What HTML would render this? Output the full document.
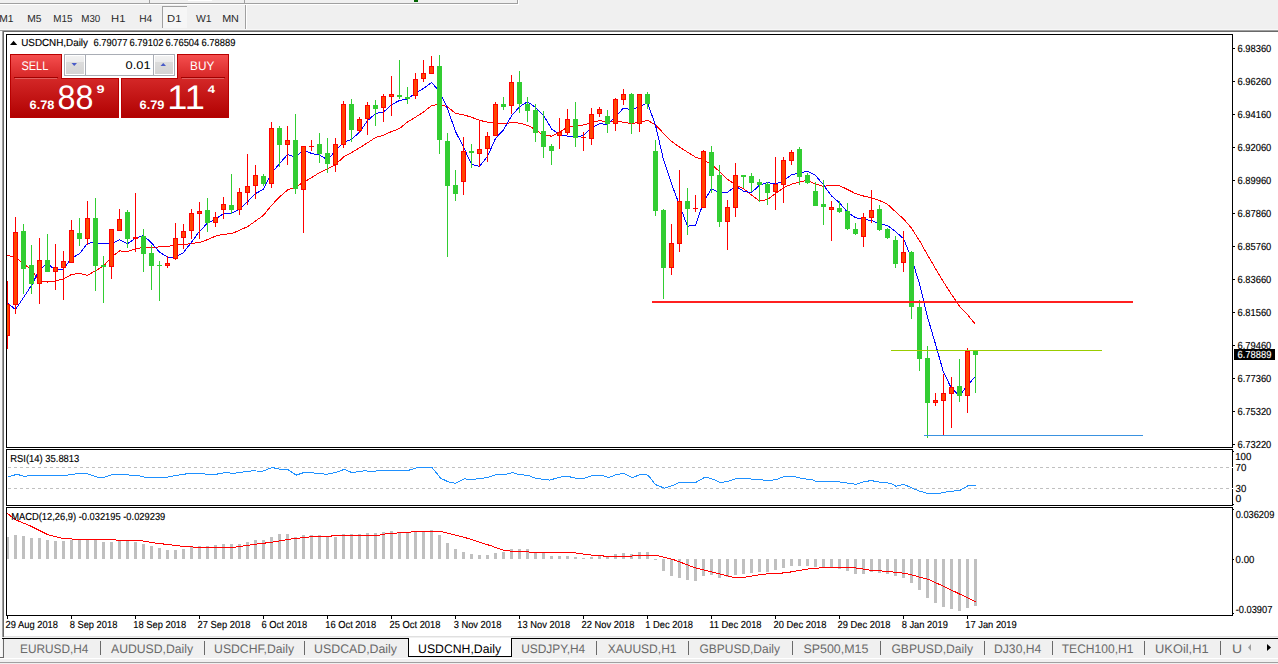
<!DOCTYPE html><html><head><meta charset="utf-8"><style>
html,body{margin:0;padding:0;width:1278px;height:664px;overflow:hidden;background:#F0F0F0;}
svg{position:absolute;left:0;top:0;}
text{font-family:"Liberation Sans",sans-serif;text-rendering:geometricPrecision;}
</style></head><body>
<svg width="1278" height="664" viewBox="0 0 1278 664">
<rect x="0" y="3" width="518" height="1" fill="#A0A0A0" shape-rendering="crispEdges"/>
<rect x="0" y="4" width="519" height="1" fill="#FFFFFF" shape-rendering="crispEdges"/>
<rect x="517" y="0" width="1" height="4" fill="#A0A0A0" shape-rendering="crispEdges"/>
<rect x="518" y="0" width="1" height="5" fill="#FFFFFF" shape-rendering="crispEdges"/>
<rect x="149" y="0" width="1" height="3" fill="#A0A0A0" shape-rendering="crispEdges"/>
<rect x="244" y="0" width="1" height="3" fill="#A0A0A0" shape-rendering="crispEdges"/>
<rect x="188" y="0" width="24" height="1" fill="#FFFFFF" shape-rendering="crispEdges"/>
<rect x="414" y="0" width="4" height="2" fill="#006400" shape-rendering="crispEdges"/>
<rect x="162" y="6" width="25" height="22" fill="#F6F6F6" shape-rendering="crispEdges"/>
<rect x="162" y="6" width="25" height="1" fill="#A0A0A0" shape-rendering="crispEdges"/>
<rect x="162" y="6" width="1" height="22" fill="#A0A0A0" shape-rendering="crispEdges"/>
<rect x="245" y="5" width="1" height="25" fill="#A0A0A0" shape-rendering="crispEdges"/>
<rect x="246" y="5" width="1" height="25" fill="#FFFFFF" shape-rendering="crispEdges"/>
<rect x="0" y="29" width="1278" height="1" fill="#F8F8F8" shape-rendering="crispEdges"/>
<rect x="0" y="30" width="1278" height="1" fill="#A0A0A0" shape-rendering="crispEdges"/>
<rect x="3" y="31" width="1275" height="1" fill="#696969" shape-rendering="crispEdges"/>
<rect x="0" y="31" width="2" height="606" fill="#F8F8F8" shape-rendering="crispEdges"/>
<rect x="2" y="30" width="1" height="607" fill="#A0A0A0" shape-rendering="crispEdges"/>
<rect x="3" y="31" width="1" height="606" fill="#696969" shape-rendering="crispEdges"/>
<rect x="4" y="32" width="1274" height="604" fill="#FFFFFF" shape-rendering="crispEdges"/>
<rect x="6" y="34" width="1227" height="1" fill="#000" shape-rendering="crispEdges"/>
<rect x="6" y="447" width="1227" height="1" fill="#000" shape-rendering="crispEdges"/>
<rect x="6" y="34" width="1" height="414" fill="#000" shape-rendering="crispEdges"/>
<rect x="1232" y="34" width="1" height="414" fill="#000" shape-rendering="crispEdges"/>
<rect x="6" y="449" width="1227" height="1" fill="#000" shape-rendering="crispEdges"/>
<rect x="6" y="505" width="1227" height="1" fill="#000" shape-rendering="crispEdges"/>
<rect x="6" y="449" width="1" height="57" fill="#000" shape-rendering="crispEdges"/>
<rect x="1232" y="449" width="1" height="57" fill="#000" shape-rendering="crispEdges"/>
<rect x="6" y="507" width="1227" height="1" fill="#000" shape-rendering="crispEdges"/>
<rect x="6" y="615" width="1227" height="1" fill="#000" shape-rendering="crispEdges"/>
<rect x="6" y="507" width="1" height="109" fill="#000" shape-rendering="crispEdges"/>
<rect x="1232" y="507" width="1" height="109" fill="#000" shape-rendering="crispEdges"/>
<rect x="1233" y="48" width="2" height="1" fill="#000" shape-rendering="crispEdges"/>
<rect x="1233" y="81" width="2" height="1" fill="#000" shape-rendering="crispEdges"/>
<rect x="1233" y="114" width="2" height="1" fill="#000" shape-rendering="crispEdges"/>
<rect x="1233" y="147" width="2" height="1" fill="#000" shape-rendering="crispEdges"/>
<rect x="1233" y="180" width="2" height="1" fill="#000" shape-rendering="crispEdges"/>
<rect x="1233" y="213" width="2" height="1" fill="#000" shape-rendering="crispEdges"/>
<rect x="1233" y="246" width="2" height="1" fill="#000" shape-rendering="crispEdges"/>
<rect x="1233" y="279" width="2" height="1" fill="#000" shape-rendering="crispEdges"/>
<rect x="1233" y="312" width="2" height="1" fill="#000" shape-rendering="crispEdges"/>
<rect x="1233" y="345" width="2" height="1" fill="#000" shape-rendering="crispEdges"/>
<rect x="1233" y="378" width="2" height="1" fill="#000" shape-rendering="crispEdges"/>
<rect x="1233" y="411" width="2" height="1" fill="#000" shape-rendering="crispEdges"/>
<rect x="1233" y="444" width="2" height="1" fill="#000" shape-rendering="crispEdges"/>
<rect x="1233" y="451" width="1" height="1" fill="#000" shape-rendering="crispEdges"/>
<rect x="1233" y="504" width="1" height="1" fill="#000" shape-rendering="crispEdges"/>
<rect x="1232" y="467" width="1" height="1" fill="#FFFFFF" shape-rendering="crispEdges"/>
<rect x="1232" y="488" width="1" height="1" fill="#FFFFFF" shape-rendering="crispEdges"/>
<rect x="1233" y="509" width="1" height="1" fill="#000" shape-rendering="crispEdges"/>
<rect x="1233" y="559" width="1" height="1" fill="#000" shape-rendering="crispEdges"/>
<rect x="1233" y="613" width="1" height="1" fill="#000" shape-rendering="crispEdges"/>
<rect x="7" y="616" width="1" height="3" fill="#000" shape-rendering="crispEdges"/>
<rect x="71" y="616" width="1" height="3" fill="#000" shape-rendering="crispEdges"/>
<rect x="135" y="616" width="1" height="3" fill="#000" shape-rendering="crispEdges"/>
<rect x="199" y="616" width="1" height="3" fill="#000" shape-rendering="crispEdges"/>
<rect x="263" y="616" width="1" height="3" fill="#000" shape-rendering="crispEdges"/>
<rect x="327" y="616" width="1" height="3" fill="#000" shape-rendering="crispEdges"/>
<rect x="391" y="616" width="1" height="3" fill="#000" shape-rendering="crispEdges"/>
<rect x="455" y="616" width="1" height="3" fill="#000" shape-rendering="crispEdges"/>
<rect x="519" y="616" width="1" height="3" fill="#000" shape-rendering="crispEdges"/>
<rect x="583" y="616" width="1" height="3" fill="#000" shape-rendering="crispEdges"/>
<rect x="647" y="616" width="1" height="3" fill="#000" shape-rendering="crispEdges"/>
<rect x="711" y="616" width="1" height="3" fill="#000" shape-rendering="crispEdges"/>
<rect x="775" y="616" width="1" height="3" fill="#000" shape-rendering="crispEdges"/>
<rect x="839" y="616" width="1" height="3" fill="#000" shape-rendering="crispEdges"/>
<rect x="903" y="616" width="1" height="3" fill="#000" shape-rendering="crispEdges"/>
<rect x="967" y="616" width="1" height="3" fill="#000" shape-rendering="crispEdges"/>
<path d="M7 467.5 H1232" stroke="#C0C0C0" stroke-width="1" stroke-dasharray="3 3" stroke-dashoffset="-1" shape-rendering="crispEdges"/>
<path d="M7 488.5 H1232" stroke="#C0C0C0" stroke-width="1" stroke-dasharray="3 3" stroke-dashoffset="-1" shape-rendering="crispEdges"/>
<defs><clipPath id="cm"><rect x="7" y="35" width="1225" height="412"/></clipPath>
<clipPath id="cr"><rect x="7" y="450" width="1225" height="55"/></clipPath>
<clipPath id="cd"><rect x="7" y="508" width="1225" height="107"/></clipPath></defs>
<g clip-path="url(#cm)">
<polyline points="7.5,255.4 15.5,257.6 23.5,263.5 31.5,269.8 39.5,281.1 47.5,282.0 55.5,281.1 63.5,278.8 71.5,274.5 79.5,273.4 87.5,275.4 95.5,270.7 103.5,266.2 111.5,256.9 119.5,250.9 127.5,251.4 135.5,249.1 143.5,247.0 151.5,247.4 159.5,246.9 167.5,246.6 175.5,244.9 183.5,245.0 191.5,243.2 199.5,242.7 207.5,239.6 215.5,236.1 223.5,234.3 231.5,233.7 239.5,230.3 247.5,226.7 255.5,221.1 263.5,215.2 271.5,205.4 279.5,197.0 287.5,190.0 295.5,187.0 303.5,182.3 311.5,177.6 319.5,172.7 327.5,168.9 335.5,164.6 343.5,157.0 351.5,152.6 359.5,147.8 367.5,142.8 375.5,137.5 383.5,135.2 391.5,131.6 399.5,128.5 407.5,122.0 415.5,117.2 423.5,112.0 431.5,105.7 439.5,104.0 447.5,106.9 455.5,113.3 463.5,114.8 471.5,117.2 479.5,120.3 487.5,122.2 495.5,122.8 503.5,123.7 511.5,122.7 519.5,123.1 527.5,125.3 535.5,129.6 543.5,135.3 551.5,136.1 559.5,132.3 567.5,127.0 575.5,126.1 583.5,125.0 591.5,122.5 599.5,120.6 607.5,122.0 615.5,121.4 623.5,122.2 631.5,123.6 639.5,122.4 647.5,120.3 655.5,124.9 663.5,133.3 671.5,141.2 679.5,147.1 687.5,152.1 695.5,157.1 703.5,159.7 711.5,164.5 719.5,171.5 727.5,179.2 735.5,184.9 743.5,188.7 751.5,195.1 759.5,200.9 767.5,199.6 775.5,193.6 783.5,187.7 791.5,184.2 799.5,181.9 807.5,180.2 815.5,184.1 823.5,186.3 831.5,185.3 839.5,185.6 847.5,189.5 855.5,193.6 863.5,196.0 871.5,197.8 879.5,200.5 887.5,204.3 895.5,211.7 903.5,218.9 911.5,228.2 919.5,240.7 927.5,254.8 935.5,268.6 943.5,281.9 951.5,294.4 959.5,306.3 967.5,314.7 975.5,324.5" fill="none" stroke="#FF0000" stroke-width="1" shape-rendering="crispEdges"/>
<polyline points="7.5,303.0 15.5,309.5 23.5,297.5 31.5,285.4 39.5,269.7 47.5,263.3 55.5,270.4 63.5,268.9 71.5,258.2 79.5,253.8 87.5,243.1 95.5,242.8 103.5,243.8 111.5,243.6 119.5,239.7 127.5,243.8 135.5,238.1 143.5,235.5 151.5,242.9 159.5,252.1 167.5,257.0 175.5,257.2 183.5,252.6 191.5,242.1 199.5,231.3 207.5,223.2 215.5,219.1 223.5,213.7 231.5,213.1 239.5,209.3 247.5,201.9 255.5,193.5 263.5,189.4 271.5,173.0 279.5,163.6 287.5,154.5 295.5,157.3 303.5,149.9 311.5,153.4 319.5,155.1 327.5,159.8 335.5,150.8 343.5,142.3 351.5,139.3 359.5,132.3 367.5,120.6 375.5,113.6 383.5,112.0 391.5,104.9 399.5,100.4 407.5,99.1 415.5,93.0 423.5,88.4 431.5,82.6 439.5,91.2 447.5,108.6 455.5,131.5 463.5,147.1 471.5,164.4 479.5,166.3 487.5,156.4 495.5,138.5 503.5,129.8 511.5,115.8 519.5,106.8 527.5,101.7 535.5,107.4 543.5,115.2 551.5,128.9 559.5,134.4 567.5,136.1 575.5,137.3 583.5,135.4 591.5,128.1 599.5,123.6 607.5,124.5 615.5,116.7 623.5,108.1 631.5,109.8 639.5,106.8 647.5,102.8 655.5,125.2 663.5,159.8 671.5,183.8 679.5,205.2 687.5,226.1 695.5,225.5 703.5,202.2 711.5,188.7 719.5,192.8 727.5,192.5 735.5,186.0 743.5,191.1 751.5,192.6 759.5,185.2 767.5,182.4 775.5,184.2 783.5,180.9 791.5,174.7 799.5,173.1 807.5,171.1 815.5,175.4 823.5,184.9 831.5,195.9 839.5,202.9 847.5,212.1 855.5,217.7 863.5,219.7 871.5,220.2 879.5,223.9 887.5,225.6 895.5,231.6 903.5,238.7 911.5,258.1 919.5,283.9 927.5,316.9 935.5,344.2 943.5,372.3 951.5,388.4 959.5,395.7 967.5,385.4 975.5,376.3" fill="none" stroke="#0000FF" stroke-width="1" shape-rendering="crispEdges"/>
<rect x="7" y="281" width="1" height="68" fill="#FF0000" shape-rendering="crispEdges"/>
<rect x="5" y="304" width="5" height="32" fill="#FF0000" shape-rendering="crispEdges"/>
<rect x="6" y="305" width="3" height="30" fill="#FF4500" shape-rendering="crispEdges"/>
<rect x="15" y="217" width="1" height="97" fill="#FF0000" shape-rendering="crispEdges"/>
<rect x="13" y="232" width="5" height="73" fill="#FF0000" shape-rendering="crispEdges"/>
<rect x="14" y="233" width="3" height="71" fill="#FF4500" shape-rendering="crispEdges"/>
<rect x="23" y="224" width="1" height="70" fill="#32CD32" shape-rendering="crispEdges"/>
<rect x="21" y="231" width="5" height="38" fill="#32CD32" shape-rendering="crispEdges"/>
<rect x="31" y="245" width="1" height="49" fill="#32CD32" shape-rendering="crispEdges"/>
<rect x="29" y="265" width="5" height="19" fill="#32CD32" shape-rendering="crispEdges"/>
<rect x="39" y="238" width="1" height="66" fill="#FF0000" shape-rendering="crispEdges"/>
<rect x="37" y="260" width="5" height="24" fill="#FF0000" shape-rendering="crispEdges"/>
<rect x="38" y="261" width="3" height="22" fill="#FF4500" shape-rendering="crispEdges"/>
<rect x="47" y="234" width="1" height="38" fill="#32CD32" shape-rendering="crispEdges"/>
<rect x="45" y="260" width="5" height="12" fill="#32CD32" shape-rendering="crispEdges"/>
<rect x="55" y="244" width="1" height="46" fill="#FF0000" shape-rendering="crispEdges"/>
<rect x="53" y="267" width="5" height="5" fill="#FF0000" shape-rendering="crispEdges"/>
<rect x="54" y="268" width="3" height="3" fill="#FF4500" shape-rendering="crispEdges"/>
<rect x="63" y="251" width="1" height="49" fill="#FF0000" shape-rendering="crispEdges"/>
<rect x="61" y="261" width="5" height="7" fill="#FF0000" shape-rendering="crispEdges"/>
<rect x="62" y="262" width="3" height="5" fill="#FF4500" shape-rendering="crispEdges"/>
<rect x="71" y="220" width="1" height="43" fill="#FF0000" shape-rendering="crispEdges"/>
<rect x="69" y="230" width="5" height="33" fill="#FF0000" shape-rendering="crispEdges"/>
<rect x="70" y="231" width="3" height="31" fill="#FF4500" shape-rendering="crispEdges"/>
<rect x="79" y="218" width="1" height="28" fill="#32CD32" shape-rendering="crispEdges"/>
<rect x="77" y="233" width="5" height="6" fill="#32CD32" shape-rendering="crispEdges"/>
<rect x="87" y="201" width="1" height="44" fill="#FF0000" shape-rendering="crispEdges"/>
<rect x="85" y="218" width="5" height="21" fill="#FF0000" shape-rendering="crispEdges"/>
<rect x="86" y="219" width="3" height="19" fill="#FF4500" shape-rendering="crispEdges"/>
<rect x="95" y="198" width="1" height="93" fill="#32CD32" shape-rendering="crispEdges"/>
<rect x="93" y="218" width="5" height="48" fill="#32CD32" shape-rendering="crispEdges"/>
<rect x="103" y="256" width="1" height="47" fill="#32CD32" shape-rendering="crispEdges"/>
<rect x="101" y="265" width="5" height="2" fill="#32CD32" shape-rendering="crispEdges"/>
<rect x="111" y="229" width="1" height="50" fill="#FF0000" shape-rendering="crispEdges"/>
<rect x="109" y="229" width="5" height="38" fill="#FF0000" shape-rendering="crispEdges"/>
<rect x="110" y="230" width="3" height="36" fill="#FF4500" shape-rendering="crispEdges"/>
<rect x="119" y="209" width="1" height="22" fill="#FF0000" shape-rendering="crispEdges"/>
<rect x="117" y="219" width="5" height="12" fill="#FF0000" shape-rendering="crispEdges"/>
<rect x="118" y="220" width="3" height="10" fill="#FF4500" shape-rendering="crispEdges"/>
<rect x="127" y="210" width="1" height="38" fill="#32CD32" shape-rendering="crispEdges"/>
<rect x="125" y="212" width="5" height="27" fill="#32CD32" shape-rendering="crispEdges"/>
<rect x="135" y="193" width="1" height="59" fill="#FF0000" shape-rendering="crispEdges"/>
<rect x="133" y="237" width="5" height="2" fill="#FF0000" shape-rendering="crispEdges"/>
<rect x="143" y="229" width="1" height="43" fill="#32CD32" shape-rendering="crispEdges"/>
<rect x="141" y="236" width="5" height="18" fill="#32CD32" shape-rendering="crispEdges"/>
<rect x="151" y="245" width="1" height="45" fill="#32CD32" shape-rendering="crispEdges"/>
<rect x="149" y="253" width="5" height="13" fill="#32CD32" shape-rendering="crispEdges"/>
<rect x="159" y="261" width="1" height="40" fill="#32CD32" shape-rendering="crispEdges"/>
<rect x="157" y="265" width="5" height="1" fill="#32CD32" shape-rendering="crispEdges"/>
<rect x="167" y="256" width="1" height="12" fill="#FF0000" shape-rendering="crispEdges"/>
<rect x="165" y="263" width="5" height="3" fill="#FF0000" shape-rendering="crispEdges"/>
<rect x="166" y="264" width="3" height="1" fill="#FF4500" shape-rendering="crispEdges"/>
<rect x="175" y="223" width="1" height="37" fill="#FF0000" shape-rendering="crispEdges"/>
<rect x="173" y="238" width="5" height="21" fill="#FF0000" shape-rendering="crispEdges"/>
<rect x="174" y="239" width="3" height="19" fill="#FF4500" shape-rendering="crispEdges"/>
<rect x="183" y="224" width="1" height="25" fill="#FF0000" shape-rendering="crispEdges"/>
<rect x="181" y="231" width="5" height="7" fill="#FF0000" shape-rendering="crispEdges"/>
<rect x="182" y="232" width="3" height="5" fill="#FF4500" shape-rendering="crispEdges"/>
<rect x="191" y="209" width="1" height="30" fill="#FF0000" shape-rendering="crispEdges"/>
<rect x="189" y="213" width="5" height="18" fill="#FF0000" shape-rendering="crispEdges"/>
<rect x="190" y="214" width="3" height="16" fill="#FF4500" shape-rendering="crispEdges"/>
<rect x="199" y="202" width="1" height="37" fill="#FF0000" shape-rendering="crispEdges"/>
<rect x="197" y="211" width="5" height="3" fill="#FF0000" shape-rendering="crispEdges"/>
<rect x="198" y="212" width="3" height="1" fill="#FF4500" shape-rendering="crispEdges"/>
<rect x="207" y="198" width="1" height="34" fill="#32CD32" shape-rendering="crispEdges"/>
<rect x="205" y="210" width="5" height="13" fill="#32CD32" shape-rendering="crispEdges"/>
<rect x="215" y="212" width="1" height="15" fill="#FF0000" shape-rendering="crispEdges"/>
<rect x="213" y="217" width="5" height="6" fill="#FF0000" shape-rendering="crispEdges"/>
<rect x="214" y="218" width="3" height="4" fill="#FF4500" shape-rendering="crispEdges"/>
<rect x="223" y="197" width="1" height="22" fill="#FF0000" shape-rendering="crispEdges"/>
<rect x="221" y="204" width="5" height="6" fill="#FF0000" shape-rendering="crispEdges"/>
<rect x="222" y="205" width="3" height="4" fill="#FF4500" shape-rendering="crispEdges"/>
<rect x="231" y="174" width="1" height="40" fill="#32CD32" shape-rendering="crispEdges"/>
<rect x="229" y="205" width="5" height="5" fill="#32CD32" shape-rendering="crispEdges"/>
<rect x="239" y="188" width="1" height="27" fill="#FF0000" shape-rendering="crispEdges"/>
<rect x="237" y="192" width="5" height="18" fill="#FF0000" shape-rendering="crispEdges"/>
<rect x="238" y="193" width="3" height="16" fill="#FF4500" shape-rendering="crispEdges"/>
<rect x="247" y="154" width="1" height="51" fill="#FF0000" shape-rendering="crispEdges"/>
<rect x="245" y="186" width="5" height="7" fill="#FF0000" shape-rendering="crispEdges"/>
<rect x="246" y="187" width="3" height="5" fill="#FF4500" shape-rendering="crispEdges"/>
<rect x="255" y="165" width="1" height="34" fill="#FF0000" shape-rendering="crispEdges"/>
<rect x="253" y="175" width="5" height="11" fill="#FF0000" shape-rendering="crispEdges"/>
<rect x="254" y="176" width="3" height="9" fill="#FF4500" shape-rendering="crispEdges"/>
<rect x="263" y="174" width="1" height="12" fill="#32CD32" shape-rendering="crispEdges"/>
<rect x="261" y="176" width="5" height="8" fill="#32CD32" shape-rendering="crispEdges"/>
<rect x="271" y="122" width="1" height="66" fill="#FF0000" shape-rendering="crispEdges"/>
<rect x="269" y="128" width="5" height="56" fill="#FF0000" shape-rendering="crispEdges"/>
<rect x="270" y="129" width="3" height="54" fill="#FF4500" shape-rendering="crispEdges"/>
<rect x="279" y="126" width="1" height="41" fill="#32CD32" shape-rendering="crispEdges"/>
<rect x="277" y="128" width="5" height="17" fill="#32CD32" shape-rendering="crispEdges"/>
<rect x="287" y="126" width="1" height="39" fill="#FF0000" shape-rendering="crispEdges"/>
<rect x="285" y="140" width="5" height="5" fill="#FF0000" shape-rendering="crispEdges"/>
<rect x="286" y="141" width="3" height="3" fill="#FF4500" shape-rendering="crispEdges"/>
<rect x="295" y="114" width="1" height="80" fill="#32CD32" shape-rendering="crispEdges"/>
<rect x="293" y="140" width="5" height="49" fill="#32CD32" shape-rendering="crispEdges"/>
<rect x="303" y="146" width="1" height="87" fill="#FF0000" shape-rendering="crispEdges"/>
<rect x="301" y="146" width="5" height="44" fill="#FF0000" shape-rendering="crispEdges"/>
<rect x="302" y="147" width="3" height="42" fill="#FF4500" shape-rendering="crispEdges"/>
<rect x="311" y="140" width="1" height="11" fill="#FF0000" shape-rendering="crispEdges"/>
<rect x="309" y="146" width="5" height="1" fill="#FF0000" shape-rendering="crispEdges"/>
<rect x="319" y="133" width="1" height="30" fill="#32CD32" shape-rendering="crispEdges"/>
<rect x="317" y="144" width="5" height="10" fill="#32CD32" shape-rendering="crispEdges"/>
<rect x="327" y="138" width="1" height="35" fill="#32CD32" shape-rendering="crispEdges"/>
<rect x="325" y="153" width="5" height="11" fill="#32CD32" shape-rendering="crispEdges"/>
<rect x="335" y="138" width="1" height="34" fill="#FF0000" shape-rendering="crispEdges"/>
<rect x="333" y="144" width="5" height="21" fill="#FF0000" shape-rendering="crispEdges"/>
<rect x="334" y="145" width="3" height="19" fill="#FF4500" shape-rendering="crispEdges"/>
<rect x="343" y="101" width="1" height="47" fill="#FF0000" shape-rendering="crispEdges"/>
<rect x="341" y="104" width="5" height="41" fill="#FF0000" shape-rendering="crispEdges"/>
<rect x="342" y="105" width="3" height="39" fill="#FF4500" shape-rendering="crispEdges"/>
<rect x="351" y="99" width="1" height="43" fill="#32CD32" shape-rendering="crispEdges"/>
<rect x="349" y="104" width="5" height="26" fill="#32CD32" shape-rendering="crispEdges"/>
<rect x="359" y="117" width="1" height="16" fill="#FF0000" shape-rendering="crispEdges"/>
<rect x="357" y="119" width="5" height="12" fill="#FF0000" shape-rendering="crispEdges"/>
<rect x="358" y="120" width="3" height="10" fill="#FF4500" shape-rendering="crispEdges"/>
<rect x="367" y="102" width="1" height="33" fill="#FF0000" shape-rendering="crispEdges"/>
<rect x="365" y="105" width="5" height="14" fill="#FF0000" shape-rendering="crispEdges"/>
<rect x="366" y="106" width="3" height="12" fill="#FF4500" shape-rendering="crispEdges"/>
<rect x="375" y="100" width="1" height="26" fill="#32CD32" shape-rendering="crispEdges"/>
<rect x="373" y="105" width="5" height="4" fill="#32CD32" shape-rendering="crispEdges"/>
<rect x="383" y="94" width="1" height="28" fill="#FF0000" shape-rendering="crispEdges"/>
<rect x="381" y="96" width="5" height="12" fill="#FF0000" shape-rendering="crispEdges"/>
<rect x="382" y="97" width="3" height="10" fill="#FF4500" shape-rendering="crispEdges"/>
<rect x="391" y="76" width="1" height="40" fill="#FF0000" shape-rendering="crispEdges"/>
<rect x="389" y="94" width="5" height="3" fill="#FF0000" shape-rendering="crispEdges"/>
<rect x="390" y="95" width="3" height="1" fill="#FF4500" shape-rendering="crispEdges"/>
<rect x="399" y="60" width="1" height="39" fill="#32CD32" shape-rendering="crispEdges"/>
<rect x="397" y="95" width="5" height="2" fill="#32CD32" shape-rendering="crispEdges"/>
<rect x="407" y="87" width="1" height="17" fill="#32CD32" shape-rendering="crispEdges"/>
<rect x="405" y="97" width="5" height="2" fill="#32CD32" shape-rendering="crispEdges"/>
<rect x="415" y="73" width="1" height="26" fill="#FF0000" shape-rendering="crispEdges"/>
<rect x="413" y="79" width="5" height="17" fill="#FF0000" shape-rendering="crispEdges"/>
<rect x="414" y="80" width="3" height="15" fill="#FF4500" shape-rendering="crispEdges"/>
<rect x="423" y="60" width="1" height="22" fill="#FF0000" shape-rendering="crispEdges"/>
<rect x="421" y="73" width="5" height="6" fill="#FF0000" shape-rendering="crispEdges"/>
<rect x="422" y="74" width="3" height="4" fill="#FF4500" shape-rendering="crispEdges"/>
<rect x="431" y="56" width="1" height="18" fill="#FF0000" shape-rendering="crispEdges"/>
<rect x="429" y="66" width="5" height="8" fill="#FF0000" shape-rendering="crispEdges"/>
<rect x="430" y="67" width="3" height="6" fill="#FF4500" shape-rendering="crispEdges"/>
<rect x="439" y="55" width="1" height="99" fill="#32CD32" shape-rendering="crispEdges"/>
<rect x="437" y="66" width="5" height="74" fill="#32CD32" shape-rendering="crispEdges"/>
<rect x="447" y="133" width="1" height="124" fill="#32CD32" shape-rendering="crispEdges"/>
<rect x="445" y="141" width="5" height="45" fill="#32CD32" shape-rendering="crispEdges"/>
<rect x="455" y="170" width="1" height="31" fill="#32CD32" shape-rendering="crispEdges"/>
<rect x="453" y="185" width="5" height="9" fill="#32CD32" shape-rendering="crispEdges"/>
<rect x="463" y="137" width="1" height="58" fill="#FF0000" shape-rendering="crispEdges"/>
<rect x="461" y="151" width="5" height="31" fill="#FF0000" shape-rendering="crispEdges"/>
<rect x="462" y="152" width="3" height="29" fill="#FF4500" shape-rendering="crispEdges"/>
<rect x="471" y="144" width="1" height="24" fill="#32CD32" shape-rendering="crispEdges"/>
<rect x="469" y="151" width="5" height="2" fill="#32CD32" shape-rendering="crispEdges"/>
<rect x="479" y="120" width="1" height="47" fill="#FF0000" shape-rendering="crispEdges"/>
<rect x="477" y="149" width="5" height="5" fill="#FF0000" shape-rendering="crispEdges"/>
<rect x="478" y="150" width="3" height="3" fill="#FF4500" shape-rendering="crispEdges"/>
<rect x="487" y="132" width="1" height="30" fill="#FF0000" shape-rendering="crispEdges"/>
<rect x="485" y="136" width="5" height="13" fill="#FF0000" shape-rendering="crispEdges"/>
<rect x="486" y="137" width="3" height="11" fill="#FF4500" shape-rendering="crispEdges"/>
<rect x="495" y="102" width="1" height="34" fill="#FF0000" shape-rendering="crispEdges"/>
<rect x="493" y="104" width="5" height="32" fill="#FF0000" shape-rendering="crispEdges"/>
<rect x="494" y="105" width="3" height="30" fill="#FF4500" shape-rendering="crispEdges"/>
<rect x="503" y="97" width="1" height="13" fill="#32CD32" shape-rendering="crispEdges"/>
<rect x="501" y="104" width="5" height="3" fill="#32CD32" shape-rendering="crispEdges"/>
<rect x="511" y="75" width="1" height="39" fill="#FF0000" shape-rendering="crispEdges"/>
<rect x="509" y="82" width="5" height="24" fill="#FF0000" shape-rendering="crispEdges"/>
<rect x="510" y="83" width="3" height="22" fill="#FF4500" shape-rendering="crispEdges"/>
<rect x="519" y="71" width="1" height="42" fill="#32CD32" shape-rendering="crispEdges"/>
<rect x="517" y="82" width="5" height="22" fill="#32CD32" shape-rendering="crispEdges"/>
<rect x="527" y="97" width="1" height="25" fill="#32CD32" shape-rendering="crispEdges"/>
<rect x="525" y="104" width="5" height="7" fill="#32CD32" shape-rendering="crispEdges"/>
<rect x="535" y="104" width="1" height="38" fill="#32CD32" shape-rendering="crispEdges"/>
<rect x="533" y="110" width="5" height="23" fill="#32CD32" shape-rendering="crispEdges"/>
<rect x="543" y="111" width="1" height="47" fill="#32CD32" shape-rendering="crispEdges"/>
<rect x="541" y="131" width="5" height="16" fill="#32CD32" shape-rendering="crispEdges"/>
<rect x="551" y="144" width="1" height="21" fill="#32CD32" shape-rendering="crispEdges"/>
<rect x="549" y="146" width="5" height="5" fill="#32CD32" shape-rendering="crispEdges"/>
<rect x="559" y="118" width="1" height="31" fill="#FF0000" shape-rendering="crispEdges"/>
<rect x="557" y="132" width="5" height="4" fill="#FF0000" shape-rendering="crispEdges"/>
<rect x="558" y="133" width="3" height="2" fill="#FF4500" shape-rendering="crispEdges"/>
<rect x="567" y="109" width="1" height="26" fill="#FF0000" shape-rendering="crispEdges"/>
<rect x="565" y="119" width="5" height="14" fill="#FF0000" shape-rendering="crispEdges"/>
<rect x="566" y="120" width="3" height="12" fill="#FF4500" shape-rendering="crispEdges"/>
<rect x="575" y="102" width="1" height="45" fill="#32CD32" shape-rendering="crispEdges"/>
<rect x="573" y="119" width="5" height="19" fill="#32CD32" shape-rendering="crispEdges"/>
<rect x="583" y="132" width="1" height="19" fill="#FF0000" shape-rendering="crispEdges"/>
<rect x="581" y="137" width="5" height="1" fill="#FF0000" shape-rendering="crispEdges"/>
<rect x="591" y="108" width="1" height="37" fill="#FF0000" shape-rendering="crispEdges"/>
<rect x="589" y="114" width="5" height="25" fill="#FF0000" shape-rendering="crispEdges"/>
<rect x="590" y="115" width="3" height="23" fill="#FF4500" shape-rendering="crispEdges"/>
<rect x="599" y="107" width="1" height="10" fill="#FF0000" shape-rendering="crispEdges"/>
<rect x="597" y="109" width="5" height="5" fill="#FF0000" shape-rendering="crispEdges"/>
<rect x="598" y="110" width="3" height="3" fill="#FF4500" shape-rendering="crispEdges"/>
<rect x="607" y="110" width="1" height="23" fill="#32CD32" shape-rendering="crispEdges"/>
<rect x="605" y="116" width="5" height="8" fill="#32CD32" shape-rendering="crispEdges"/>
<rect x="615" y="98" width="1" height="33" fill="#FF0000" shape-rendering="crispEdges"/>
<rect x="613" y="99" width="5" height="25" fill="#FF0000" shape-rendering="crispEdges"/>
<rect x="614" y="100" width="3" height="23" fill="#FF4500" shape-rendering="crispEdges"/>
<rect x="623" y="89" width="1" height="16" fill="#FF0000" shape-rendering="crispEdges"/>
<rect x="621" y="94" width="5" height="6" fill="#FF0000" shape-rendering="crispEdges"/>
<rect x="622" y="95" width="3" height="4" fill="#FF4500" shape-rendering="crispEdges"/>
<rect x="631" y="93" width="1" height="41" fill="#32CD32" shape-rendering="crispEdges"/>
<rect x="629" y="94" width="5" height="29" fill="#32CD32" shape-rendering="crispEdges"/>
<rect x="639" y="94" width="1" height="38" fill="#FF0000" shape-rendering="crispEdges"/>
<rect x="637" y="94" width="5" height="30" fill="#FF0000" shape-rendering="crispEdges"/>
<rect x="638" y="95" width="3" height="28" fill="#FF4500" shape-rendering="crispEdges"/>
<rect x="647" y="92" width="1" height="17" fill="#32CD32" shape-rendering="crispEdges"/>
<rect x="645" y="94" width="5" height="10" fill="#32CD32" shape-rendering="crispEdges"/>
<rect x="655" y="140" width="1" height="76" fill="#32CD32" shape-rendering="crispEdges"/>
<rect x="653" y="151" width="5" height="60" fill="#32CD32" shape-rendering="crispEdges"/>
<rect x="663" y="209" width="1" height="90" fill="#32CD32" shape-rendering="crispEdges"/>
<rect x="661" y="210" width="5" height="58" fill="#32CD32" shape-rendering="crispEdges"/>
<rect x="671" y="224" width="1" height="51" fill="#FF0000" shape-rendering="crispEdges"/>
<rect x="669" y="243" width="5" height="25" fill="#FF0000" shape-rendering="crispEdges"/>
<rect x="670" y="244" width="3" height="23" fill="#FF4500" shape-rendering="crispEdges"/>
<rect x="679" y="170" width="1" height="82" fill="#FF0000" shape-rendering="crispEdges"/>
<rect x="677" y="201" width="5" height="43" fill="#FF0000" shape-rendering="crispEdges"/>
<rect x="678" y="202" width="3" height="41" fill="#FF4500" shape-rendering="crispEdges"/>
<rect x="687" y="188" width="1" height="47" fill="#32CD32" shape-rendering="crispEdges"/>
<rect x="685" y="201" width="5" height="8" fill="#32CD32" shape-rendering="crispEdges"/>
<rect x="695" y="195" width="1" height="17" fill="#FF0000" shape-rendering="crispEdges"/>
<rect x="693" y="208" width="5" height="1" fill="#FF0000" shape-rendering="crispEdges"/>
<rect x="703" y="150" width="1" height="58" fill="#FF0000" shape-rendering="crispEdges"/>
<rect x="701" y="151" width="5" height="57" fill="#FF0000" shape-rendering="crispEdges"/>
<rect x="702" y="152" width="3" height="55" fill="#FF4500" shape-rendering="crispEdges"/>
<rect x="711" y="146" width="1" height="47" fill="#32CD32" shape-rendering="crispEdges"/>
<rect x="709" y="152" width="5" height="24" fill="#32CD32" shape-rendering="crispEdges"/>
<rect x="719" y="165" width="1" height="62" fill="#32CD32" shape-rendering="crispEdges"/>
<rect x="717" y="175" width="5" height="47" fill="#32CD32" shape-rendering="crispEdges"/>
<rect x="727" y="200" width="1" height="50" fill="#FF0000" shape-rendering="crispEdges"/>
<rect x="725" y="207" width="5" height="15" fill="#FF0000" shape-rendering="crispEdges"/>
<rect x="726" y="208" width="3" height="13" fill="#FF4500" shape-rendering="crispEdges"/>
<rect x="735" y="163" width="1" height="54" fill="#FF0000" shape-rendering="crispEdges"/>
<rect x="733" y="175" width="5" height="33" fill="#FF0000" shape-rendering="crispEdges"/>
<rect x="734" y="176" width="3" height="31" fill="#FF4500" shape-rendering="crispEdges"/>
<rect x="743" y="175" width="1" height="13" fill="#32CD32" shape-rendering="crispEdges"/>
<rect x="741" y="175" width="5" height="2" fill="#32CD32" shape-rendering="crispEdges"/>
<rect x="751" y="173" width="1" height="19" fill="#32CD32" shape-rendering="crispEdges"/>
<rect x="749" y="176" width="5" height="7" fill="#32CD32" shape-rendering="crispEdges"/>
<rect x="759" y="179" width="1" height="23" fill="#32CD32" shape-rendering="crispEdges"/>
<rect x="757" y="182" width="5" height="3" fill="#32CD32" shape-rendering="crispEdges"/>
<rect x="767" y="182" width="1" height="23" fill="#32CD32" shape-rendering="crispEdges"/>
<rect x="765" y="184" width="5" height="9" fill="#32CD32" shape-rendering="crispEdges"/>
<rect x="775" y="157" width="1" height="53" fill="#FF0000" shape-rendering="crispEdges"/>
<rect x="773" y="184" width="5" height="8" fill="#FF0000" shape-rendering="crispEdges"/>
<rect x="774" y="185" width="3" height="6" fill="#FF4500" shape-rendering="crispEdges"/>
<rect x="783" y="157" width="1" height="46" fill="#FF0000" shape-rendering="crispEdges"/>
<rect x="781" y="160" width="5" height="25" fill="#FF0000" shape-rendering="crispEdges"/>
<rect x="782" y="161" width="3" height="23" fill="#FF4500" shape-rendering="crispEdges"/>
<rect x="791" y="150" width="1" height="15" fill="#FF0000" shape-rendering="crispEdges"/>
<rect x="789" y="152" width="5" height="9" fill="#FF0000" shape-rendering="crispEdges"/>
<rect x="790" y="153" width="3" height="7" fill="#FF4500" shape-rendering="crispEdges"/>
<rect x="799" y="147" width="1" height="38" fill="#32CD32" shape-rendering="crispEdges"/>
<rect x="797" y="149" width="5" height="28" fill="#32CD32" shape-rendering="crispEdges"/>
<rect x="807" y="173" width="1" height="11" fill="#32CD32" shape-rendering="crispEdges"/>
<rect x="805" y="175" width="5" height="8" fill="#32CD32" shape-rendering="crispEdges"/>
<rect x="815" y="182" width="1" height="24" fill="#32CD32" shape-rendering="crispEdges"/>
<rect x="813" y="191" width="5" height="15" fill="#32CD32" shape-rendering="crispEdges"/>
<rect x="823" y="180" width="1" height="45" fill="#32CD32" shape-rendering="crispEdges"/>
<rect x="821" y="204" width="5" height="3" fill="#32CD32" shape-rendering="crispEdges"/>
<rect x="831" y="201" width="1" height="40" fill="#FF0000" shape-rendering="crispEdges"/>
<rect x="829" y="207" width="5" height="3" fill="#FF0000" shape-rendering="crispEdges"/>
<rect x="830" y="208" width="3" height="1" fill="#FF4500" shape-rendering="crispEdges"/>
<rect x="839" y="201" width="1" height="12" fill="#32CD32" shape-rendering="crispEdges"/>
<rect x="837" y="208" width="5" height="4" fill="#32CD32" shape-rendering="crispEdges"/>
<rect x="847" y="203" width="1" height="27" fill="#32CD32" shape-rendering="crispEdges"/>
<rect x="845" y="211" width="5" height="18" fill="#32CD32" shape-rendering="crispEdges"/>
<rect x="855" y="223" width="1" height="12" fill="#32CD32" shape-rendering="crispEdges"/>
<rect x="853" y="229" width="5" height="5" fill="#32CD32" shape-rendering="crispEdges"/>
<rect x="863" y="213" width="1" height="34" fill="#FF0000" shape-rendering="crispEdges"/>
<rect x="861" y="217" width="5" height="20" fill="#FF0000" shape-rendering="crispEdges"/>
<rect x="862" y="218" width="3" height="18" fill="#FF4500" shape-rendering="crispEdges"/>
<rect x="871" y="190" width="1" height="33" fill="#FF0000" shape-rendering="crispEdges"/>
<rect x="869" y="210" width="5" height="8" fill="#FF0000" shape-rendering="crispEdges"/>
<rect x="870" y="211" width="3" height="6" fill="#FF4500" shape-rendering="crispEdges"/>
<rect x="879" y="205" width="1" height="26" fill="#32CD32" shape-rendering="crispEdges"/>
<rect x="877" y="209" width="5" height="21" fill="#32CD32" shape-rendering="crispEdges"/>
<rect x="887" y="228" width="1" height="11" fill="#32CD32" shape-rendering="crispEdges"/>
<rect x="885" y="229" width="5" height="9" fill="#32CD32" shape-rendering="crispEdges"/>
<rect x="895" y="236" width="1" height="32" fill="#32CD32" shape-rendering="crispEdges"/>
<rect x="893" y="240" width="5" height="24" fill="#32CD32" shape-rendering="crispEdges"/>
<rect x="903" y="231" width="1" height="41" fill="#FF0000" shape-rendering="crispEdges"/>
<rect x="901" y="252" width="5" height="11" fill="#FF0000" shape-rendering="crispEdges"/>
<rect x="902" y="253" width="3" height="9" fill="#FF4500" shape-rendering="crispEdges"/>
<rect x="911" y="251" width="1" height="68" fill="#32CD32" shape-rendering="crispEdges"/>
<rect x="909" y="252" width="5" height="55" fill="#32CD32" shape-rendering="crispEdges"/>
<rect x="919" y="300" width="1" height="71" fill="#32CD32" shape-rendering="crispEdges"/>
<rect x="917" y="307" width="5" height="52" fill="#32CD32" shape-rendering="crispEdges"/>
<rect x="927" y="346" width="1" height="92" fill="#32CD32" shape-rendering="crispEdges"/>
<rect x="925" y="358" width="5" height="45" fill="#32CD32" shape-rendering="crispEdges"/>
<rect x="935" y="393" width="1" height="13" fill="#FF0000" shape-rendering="crispEdges"/>
<rect x="933" y="400" width="5" height="3" fill="#FF0000" shape-rendering="crispEdges"/>
<rect x="934" y="401" width="3" height="1" fill="#FF4500" shape-rendering="crispEdges"/>
<rect x="943" y="374" width="1" height="62" fill="#FF0000" shape-rendering="crispEdges"/>
<rect x="941" y="393" width="5" height="8" fill="#FF0000" shape-rendering="crispEdges"/>
<rect x="942" y="394" width="3" height="6" fill="#FF4500" shape-rendering="crispEdges"/>
<rect x="951" y="377" width="1" height="51" fill="#FF0000" shape-rendering="crispEdges"/>
<rect x="949" y="387" width="5" height="7" fill="#FF0000" shape-rendering="crispEdges"/>
<rect x="950" y="388" width="3" height="5" fill="#FF4500" shape-rendering="crispEdges"/>
<rect x="959" y="359" width="1" height="43" fill="#32CD32" shape-rendering="crispEdges"/>
<rect x="957" y="386" width="5" height="10" fill="#32CD32" shape-rendering="crispEdges"/>
<rect x="967" y="348" width="1" height="65" fill="#FF0000" shape-rendering="crispEdges"/>
<rect x="965" y="351" width="5" height="45" fill="#FF0000" shape-rendering="crispEdges"/>
<rect x="966" y="352" width="3" height="43" fill="#FF4500" shape-rendering="crispEdges"/>
<rect x="975" y="351" width="1" height="42" fill="#32CD32" shape-rendering="crispEdges"/>
<rect x="973" y="351" width="5" height="4" fill="#32CD32" shape-rendering="crispEdges"/>
<rect x="652" y="301" width="481" height="2" fill="#FF2020" shape-rendering="crispEdges"/>
<rect x="891" y="350" width="211" height="1" fill="#99CC00" shape-rendering="crispEdges"/>
<rect x="924" y="435" width="219" height="1" fill="#3A92E0" shape-rendering="crispEdges"/>
</g>
<g clip-path="url(#cr)">
<polyline points="7.5,477.1 16.8,474.3 24.3,476.3 36.8,475.0 45.6,476.0 64.4,475.8 70.7,474.3 85.7,473.3 97.0,477.1 104.5,477.1 112.0,474.6 123.3,474.6 138.3,475.6 144.6,477.1 167.2,477.1 181.0,474.6 188.5,473.6 203.5,473.6 207.3,474.6 216.0,474.3 224.8,472.6 233.5,473.3 252.4,470.8 262.4,471.3 272.4,467.5 278.7,469.0 287.5,469.3 296.2,475.1 303.8,472.6 316.3,473.1 326.8,474.3 335.5,472.6 344.3,469.3 351.8,472.6 364.4,470.8 373.1,471.6 380.7,470.0 409.5,470.0 415.7,468.0 428.3,467.5 432.0,467.5 440.8,478.3 448.3,481.8 455.8,483.3 464.6,478.8 470.9,479.6 487.2,477.6 495.9,474.6 506.0,474.3 512.2,472.6 518.5,474.3 528.5,475.6 536.0,478.3 549.8,480.1 559.8,477.1 567.4,476.3 576.1,478.3 584.9,478.1 592.4,475.6 602.4,475.6 608.7,477.6 616.2,474.6 623.8,473.3 632.5,477.6 640.8,474.3 648.0,475.1 655.5,484.6 664.3,488.1 670.6,486.3 679.3,482.6 695.6,482.6 705.2,477.1 711.9,478.8 720.7,482.6 728.2,481.3 735.7,478.8 748.3,478.8 764.6,480.1 768.3,480.8 777.1,479.3 784.6,476.3 793.4,476.3 800.9,478.3 813.4,480.1 815.9,481.3 836.0,481.3 848.5,483.3 856.0,484.3 863.6,481.8 871.1,480.6 879.8,482.1 891.1,483.3 896.1,486.3 903.7,484.3 911.2,487.6 918.7,490.9 927.5,493.4 938.8,493.4 949.3,491.4 959.7,490.5 968.5,485.5 975.5,485.2" fill="none" stroke="#1E90FF" stroke-width="1" shape-rendering="crispEdges"/>
</g>
<g clip-path="url(#cd)">
<rect x="6" y="537" width="3" height="22" fill="#C0C0C0" shape-rendering="crispEdges"/>
<rect x="14" y="535" width="3" height="24" fill="#C0C0C0" shape-rendering="crispEdges"/>
<rect x="22" y="536" width="3" height="23" fill="#C0C0C0" shape-rendering="crispEdges"/>
<rect x="30" y="538" width="3" height="21" fill="#C0C0C0" shape-rendering="crispEdges"/>
<rect x="38" y="538" width="3" height="21" fill="#C0C0C0" shape-rendering="crispEdges"/>
<rect x="46" y="540" width="3" height="19" fill="#C0C0C0" shape-rendering="crispEdges"/>
<rect x="54" y="541" width="3" height="18" fill="#C0C0C0" shape-rendering="crispEdges"/>
<rect x="62" y="541" width="3" height="18" fill="#C0C0C0" shape-rendering="crispEdges"/>
<rect x="70" y="540" width="3" height="19" fill="#C0C0C0" shape-rendering="crispEdges"/>
<rect x="78" y="539" width="3" height="20" fill="#C0C0C0" shape-rendering="crispEdges"/>
<rect x="86" y="539" width="3" height="20" fill="#C0C0C0" shape-rendering="crispEdges"/>
<rect x="94" y="539" width="3" height="20" fill="#C0C0C0" shape-rendering="crispEdges"/>
<rect x="102" y="542" width="3" height="17" fill="#C0C0C0" shape-rendering="crispEdges"/>
<rect x="110" y="542" width="3" height="17" fill="#C0C0C0" shape-rendering="crispEdges"/>
<rect x="118" y="541" width="3" height="18" fill="#C0C0C0" shape-rendering="crispEdges"/>
<rect x="126" y="541" width="3" height="18" fill="#C0C0C0" shape-rendering="crispEdges"/>
<rect x="134" y="542" width="3" height="17" fill="#C0C0C0" shape-rendering="crispEdges"/>
<rect x="142" y="544" width="3" height="15" fill="#C0C0C0" shape-rendering="crispEdges"/>
<rect x="150" y="546" width="3" height="13" fill="#C0C0C0" shape-rendering="crispEdges"/>
<rect x="158" y="548" width="3" height="11" fill="#C0C0C0" shape-rendering="crispEdges"/>
<rect x="166" y="550" width="3" height="9" fill="#C0C0C0" shape-rendering="crispEdges"/>
<rect x="174" y="550" width="3" height="9" fill="#C0C0C0" shape-rendering="crispEdges"/>
<rect x="182" y="549" width="3" height="10" fill="#C0C0C0" shape-rendering="crispEdges"/>
<rect x="190" y="547" width="3" height="12" fill="#C0C0C0" shape-rendering="crispEdges"/>
<rect x="198" y="546" width="3" height="13" fill="#C0C0C0" shape-rendering="crispEdges"/>
<rect x="206" y="546" width="3" height="13" fill="#C0C0C0" shape-rendering="crispEdges"/>
<rect x="214" y="545" width="3" height="14" fill="#C0C0C0" shape-rendering="crispEdges"/>
<rect x="222" y="544" width="3" height="15" fill="#C0C0C0" shape-rendering="crispEdges"/>
<rect x="230" y="544" width="3" height="15" fill="#C0C0C0" shape-rendering="crispEdges"/>
<rect x="238" y="544" width="3" height="15" fill="#C0C0C0" shape-rendering="crispEdges"/>
<rect x="246" y="542" width="3" height="17" fill="#C0C0C0" shape-rendering="crispEdges"/>
<rect x="254" y="540" width="3" height="19" fill="#C0C0C0" shape-rendering="crispEdges"/>
<rect x="262" y="540" width="3" height="19" fill="#C0C0C0" shape-rendering="crispEdges"/>
<rect x="270" y="537" width="3" height="22" fill="#C0C0C0" shape-rendering="crispEdges"/>
<rect x="278" y="534" width="3" height="25" fill="#C0C0C0" shape-rendering="crispEdges"/>
<rect x="286" y="534" width="3" height="25" fill="#C0C0C0" shape-rendering="crispEdges"/>
<rect x="294" y="537" width="3" height="22" fill="#C0C0C0" shape-rendering="crispEdges"/>
<rect x="302" y="535" width="3" height="24" fill="#C0C0C0" shape-rendering="crispEdges"/>
<rect x="310" y="535" width="3" height="24" fill="#C0C0C0" shape-rendering="crispEdges"/>
<rect x="318" y="535" width="3" height="24" fill="#C0C0C0" shape-rendering="crispEdges"/>
<rect x="326" y="537" width="3" height="22" fill="#C0C0C0" shape-rendering="crispEdges"/>
<rect x="334" y="537" width="3" height="22" fill="#C0C0C0" shape-rendering="crispEdges"/>
<rect x="342" y="534" width="3" height="25" fill="#C0C0C0" shape-rendering="crispEdges"/>
<rect x="350" y="534" width="3" height="25" fill="#C0C0C0" shape-rendering="crispEdges"/>
<rect x="358" y="534" width="3" height="25" fill="#C0C0C0" shape-rendering="crispEdges"/>
<rect x="366" y="533" width="3" height="26" fill="#C0C0C0" shape-rendering="crispEdges"/>
<rect x="374" y="533" width="3" height="26" fill="#C0C0C0" shape-rendering="crispEdges"/>
<rect x="382" y="532" width="3" height="27" fill="#C0C0C0" shape-rendering="crispEdges"/>
<rect x="390" y="531" width="3" height="28" fill="#C0C0C0" shape-rendering="crispEdges"/>
<rect x="398" y="532" width="3" height="27" fill="#C0C0C0" shape-rendering="crispEdges"/>
<rect x="406" y="532" width="3" height="27" fill="#C0C0C0" shape-rendering="crispEdges"/>
<rect x="414" y="532" width="3" height="27" fill="#C0C0C0" shape-rendering="crispEdges"/>
<rect x="422" y="531" width="3" height="28" fill="#C0C0C0" shape-rendering="crispEdges"/>
<rect x="430" y="530" width="3" height="29" fill="#C0C0C0" shape-rendering="crispEdges"/>
<rect x="438" y="535" width="3" height="24" fill="#C0C0C0" shape-rendering="crispEdges"/>
<rect x="446" y="543" width="3" height="16" fill="#C0C0C0" shape-rendering="crispEdges"/>
<rect x="454" y="549" width="3" height="10" fill="#C0C0C0" shape-rendering="crispEdges"/>
<rect x="462" y="552" width="3" height="7" fill="#C0C0C0" shape-rendering="crispEdges"/>
<rect x="470" y="554" width="3" height="5" fill="#C0C0C0" shape-rendering="crispEdges"/>
<rect x="478" y="555" width="3" height="4" fill="#C0C0C0" shape-rendering="crispEdges"/>
<rect x="486" y="555" width="3" height="4" fill="#C0C0C0" shape-rendering="crispEdges"/>
<rect x="494" y="553" width="3" height="6" fill="#C0C0C0" shape-rendering="crispEdges"/>
<rect x="502" y="552" width="3" height="7" fill="#C0C0C0" shape-rendering="crispEdges"/>
<rect x="510" y="549" width="3" height="10" fill="#C0C0C0" shape-rendering="crispEdges"/>
<rect x="518" y="549" width="3" height="10" fill="#C0C0C0" shape-rendering="crispEdges"/>
<rect x="526" y="549" width="3" height="10" fill="#C0C0C0" shape-rendering="crispEdges"/>
<rect x="534" y="552" width="3" height="7" fill="#C0C0C0" shape-rendering="crispEdges"/>
<rect x="542" y="553" width="3" height="6" fill="#C0C0C0" shape-rendering="crispEdges"/>
<rect x="550" y="556" width="3" height="3" fill="#C0C0C0" shape-rendering="crispEdges"/>
<rect x="558" y="556" width="3" height="3" fill="#C0C0C0" shape-rendering="crispEdges"/>
<rect x="566" y="556" width="3" height="3" fill="#C0C0C0" shape-rendering="crispEdges"/>
<rect x="574" y="557" width="3" height="2" fill="#C0C0C0" shape-rendering="crispEdges"/>
<rect x="582" y="558" width="3" height="1" fill="#C0C0C0" shape-rendering="crispEdges"/>
<rect x="590" y="557" width="3" height="2" fill="#C0C0C0" shape-rendering="crispEdges"/>
<rect x="598" y="556" width="3" height="3" fill="#C0C0C0" shape-rendering="crispEdges"/>
<rect x="606" y="557" width="3" height="2" fill="#C0C0C0" shape-rendering="crispEdges"/>
<rect x="614" y="554" width="3" height="5" fill="#C0C0C0" shape-rendering="crispEdges"/>
<rect x="622" y="553" width="3" height="6" fill="#C0C0C0" shape-rendering="crispEdges"/>
<rect x="630" y="554" width="3" height="5" fill="#C0C0C0" shape-rendering="crispEdges"/>
<rect x="638" y="552" width="3" height="7" fill="#C0C0C0" shape-rendering="crispEdges"/>
<rect x="646" y="552" width="3" height="7" fill="#C0C0C0" shape-rendering="crispEdges"/>
<rect x="654" y="559" width="3" height="1" fill="#C0C0C0" shape-rendering="crispEdges"/>
<rect x="662" y="559" width="3" height="12" fill="#C0C0C0" shape-rendering="crispEdges"/>
<rect x="670" y="559" width="3" height="17" fill="#C0C0C0" shape-rendering="crispEdges"/>
<rect x="678" y="559" width="3" height="19" fill="#C0C0C0" shape-rendering="crispEdges"/>
<rect x="686" y="559" width="3" height="21" fill="#C0C0C0" shape-rendering="crispEdges"/>
<rect x="694" y="559" width="3" height="22" fill="#C0C0C0" shape-rendering="crispEdges"/>
<rect x="702" y="559" width="3" height="17" fill="#C0C0C0" shape-rendering="crispEdges"/>
<rect x="710" y="559" width="3" height="16" fill="#C0C0C0" shape-rendering="crispEdges"/>
<rect x="718" y="559" width="3" height="19" fill="#C0C0C0" shape-rendering="crispEdges"/>
<rect x="726" y="559" width="3" height="18" fill="#C0C0C0" shape-rendering="crispEdges"/>
<rect x="734" y="559" width="3" height="16" fill="#C0C0C0" shape-rendering="crispEdges"/>
<rect x="742" y="559" width="3" height="15" fill="#C0C0C0" shape-rendering="crispEdges"/>
<rect x="750" y="559" width="3" height="14" fill="#C0C0C0" shape-rendering="crispEdges"/>
<rect x="758" y="559" width="3" height="13" fill="#C0C0C0" shape-rendering="crispEdges"/>
<rect x="766" y="559" width="3" height="13" fill="#C0C0C0" shape-rendering="crispEdges"/>
<rect x="774" y="559" width="3" height="11" fill="#C0C0C0" shape-rendering="crispEdges"/>
<rect x="782" y="559" width="3" height="9" fill="#C0C0C0" shape-rendering="crispEdges"/>
<rect x="790" y="559" width="3" height="7" fill="#C0C0C0" shape-rendering="crispEdges"/>
<rect x="798" y="559" width="3" height="7" fill="#C0C0C0" shape-rendering="crispEdges"/>
<rect x="806" y="559" width="3" height="7" fill="#C0C0C0" shape-rendering="crispEdges"/>
<rect x="814" y="559" width="3" height="8" fill="#C0C0C0" shape-rendering="crispEdges"/>
<rect x="822" y="559" width="3" height="8" fill="#C0C0C0" shape-rendering="crispEdges"/>
<rect x="830" y="559" width="3" height="8" fill="#C0C0C0" shape-rendering="crispEdges"/>
<rect x="838" y="559" width="3" height="10" fill="#C0C0C0" shape-rendering="crispEdges"/>
<rect x="846" y="559" width="3" height="12" fill="#C0C0C0" shape-rendering="crispEdges"/>
<rect x="854" y="559" width="3" height="15" fill="#C0C0C0" shape-rendering="crispEdges"/>
<rect x="862" y="559" width="3" height="15" fill="#C0C0C0" shape-rendering="crispEdges"/>
<rect x="870" y="559" width="3" height="13" fill="#C0C0C0" shape-rendering="crispEdges"/>
<rect x="878" y="559" width="3" height="14" fill="#C0C0C0" shape-rendering="crispEdges"/>
<rect x="886" y="559" width="3" height="15" fill="#C0C0C0" shape-rendering="crispEdges"/>
<rect x="894" y="559" width="3" height="17" fill="#C0C0C0" shape-rendering="crispEdges"/>
<rect x="902" y="559" width="3" height="19" fill="#C0C0C0" shape-rendering="crispEdges"/>
<rect x="910" y="559" width="3" height="24" fill="#C0C0C0" shape-rendering="crispEdges"/>
<rect x="918" y="559" width="3" height="31" fill="#C0C0C0" shape-rendering="crispEdges"/>
<rect x="926" y="559" width="3" height="39" fill="#C0C0C0" shape-rendering="crispEdges"/>
<rect x="934" y="559" width="3" height="44" fill="#C0C0C0" shape-rendering="crispEdges"/>
<rect x="942" y="559" width="3" height="48" fill="#C0C0C0" shape-rendering="crispEdges"/>
<rect x="950" y="559" width="3" height="50" fill="#C0C0C0" shape-rendering="crispEdges"/>
<rect x="958" y="559" width="3" height="52" fill="#C0C0C0" shape-rendering="crispEdges"/>
<rect x="966" y="559" width="3" height="49" fill="#C0C0C0" shape-rendering="crispEdges"/>
<rect x="974" y="559" width="3" height="47" fill="#C0C0C0" shape-rendering="crispEdges"/>
<polyline points="7.5,513.5 15.5,519.8 30.5,526.0 48.1,534.8 63.1,538.6 78.2,539.3 100.8,539.8 138.3,540.3 155.9,543.1 181.0,546.1 198.5,547.4 233.6,547.4 251.1,544.8 271.2,542.3 288.7,539.3 316.5,536.1 330.3,536.6 332.8,535.3 379.2,535.3 381.7,534.3 399.2,532.8 414.2,531.8 441.8,531.8 451.8,534.1 466.9,538.1 491.9,546.1 502.0,549.9 517.0,551.9 572.1,552.4 589.7,554.9 604.7,556.1 627.3,556.1 636.5,555.9 659.0,555.9 673.1,559.5 695.7,568.0 718.2,573.6 732.3,577.0 746.4,577.0 763.3,574.2 785.8,572.8 811.1,568.5 833.7,567.1 850.6,567.1 870.3,570.2 890.0,571.6 906.9,573.6 929.5,579.8 946.4,587.7 975.5,601.6" fill="none" stroke="#FF0000" stroke-width="1" shape-rendering="crispEdges"/>
</g>
<path d="M10 45 L13.6 40.8 L17.2 45 Z" fill="#000"/>
<rect x="1234" y="349" width="41" height="11" fill="#000" shape-rendering="crispEdges"/>
<defs><linearGradient id="gt" x1="0" y1="0" x2="0" y2="1"><stop offset="0" stop-color="#F65050"/><stop offset="1" stop-color="#D42424"/></linearGradient>
<linearGradient id="gb" x1="0" y1="0" x2="0" y2="1"><stop offset="0" stop-color="#D42828"/><stop offset="1" stop-color="#B00000"/></linearGradient>
<linearGradient id="gs" x1="0" y1="0" x2="0" y2="1"><stop offset="0" stop-color="#F2F2F2"/><stop offset="0.33" stop-color="#EBEBEB"/><stop offset="0.33" stop-color="#DCDCDC"/><stop offset="1" stop-color="#D4D4D4"/></linearGradient></defs>
<rect x="10" y="54" width="52" height="25" fill="url(#gt)" shape-rendering="crispEdges"/>
<rect x="177" y="54" width="52" height="25" fill="url(#gt)" shape-rendering="crispEdges"/>
<rect x="10" y="78" width="109" height="40" fill="url(#gb)" shape-rendering="crispEdges"/>
<rect x="121" y="78" width="108" height="40" fill="url(#gb)" shape-rendering="crispEdges"/>
<path d="M10.5 117.5 V54.5 H61.5 V78.5 H118.5 V117.5 Z" fill="none" stroke="#B80000" shape-rendering="crispEdges"/>
<path d="M121.5 117.5 V78.5 H177.5 V54.5 H228.5 V117.5 Z" fill="none" stroke="#B80000" shape-rendering="crispEdges"/>
<rect x="14" y="77" width="44" height="1" fill="#A00000" shape-rendering="crispEdges"/>
<rect x="181" y="77" width="44" height="1" fill="#A00000" shape-rendering="crispEdges"/>
<rect x="15" y="78" width="42" height="1" fill="#E06060" shape-rendering="crispEdges"/>
<rect x="182" y="78" width="42" height="1" fill="#E06060" shape-rendering="crispEdges"/>
<rect x="64" y="54" width="111" height="22" fill="#FFFFFF" shape-rendering="crispEdges"/>
<rect x="64.5" y="54.5" width="110" height="21" fill="none" stroke="#A9ADB5" shape-rendering="crispEdges"/>
<rect x="66" y="56" width="18" height="18" fill="url(#gs)" shape-rendering="crispEdges"/>
<rect x="85" y="55" width="1" height="20" fill="#A9ADB5" shape-rendering="crispEdges"/>
<rect x="155" y="56" width="18" height="18" fill="url(#gs)" shape-rendering="crispEdges"/>
<rect x="153" y="55" width="1" height="20" fill="#A9ADB5" shape-rendering="crispEdges"/>
<path d="M71.5 63 L77 63 L74.25 66 Z" fill="#4A5CC8"/>
<path d="M160.5 66 L166 66 L163.25 63 Z" fill="#4A5CC8"/>
<rect x="4" y="636" width="1274" height="1" fill="#E0E0E0" shape-rendering="crispEdges"/>
<rect x="0" y="637" width="1278" height="1" fill="#F0F0F0" shape-rendering="crispEdges"/>
<rect x="2" y="638" width="1276" height="1" fill="#000" shape-rendering="crispEdges"/>
<rect x="0" y="636" width="2" height="3" fill="#F8F8F8" shape-rendering="crispEdges"/>
<rect x="0" y="639" width="1278" height="18" fill="#F0F0F0" shape-rendering="crispEdges"/>
<rect x="0" y="639" width="2" height="18" fill="#F8F8F8" shape-rendering="crispEdges"/>
<rect x="3" y="639" width="1" height="18" fill="#696969" shape-rendering="crispEdges"/>
<rect x="0" y="657" width="4" height="1" fill="#696969" shape-rendering="crispEdges"/>
<rect x="0" y="658" width="1278" height="1" fill="#FFFFFF" shape-rendering="crispEdges"/>
<rect x="0" y="659" width="1278" height="5" fill="#F0F0F0" shape-rendering="crispEdges"/>
<rect x="0" y="662" width="1278" height="1" fill="#A0A0A0" shape-rendering="crispEdges"/>
<path d="M408.5 638.5 V656.5 H511.5 V638.5" fill="#FFFFFF" stroke="#000" shape-rendering="crispEdges"/>
<rect x="409" y="638" width="102" height="1" fill="#FFFFFF" shape-rendering="crispEdges"/>
<rect x="100" y="641" width="1" height="14" fill="#6A6A6A" shape-rendering="crispEdges"/>
<rect x="204" y="641" width="1" height="14" fill="#6A6A6A" shape-rendering="crispEdges"/>
<rect x="304" y="641" width="1" height="14" fill="#6A6A6A" shape-rendering="crispEdges"/>
<rect x="596" y="641" width="1" height="14" fill="#6A6A6A" shape-rendering="crispEdges"/>
<rect x="688" y="641" width="1" height="14" fill="#6A6A6A" shape-rendering="crispEdges"/>
<rect x="792" y="641" width="1" height="14" fill="#6A6A6A" shape-rendering="crispEdges"/>
<rect x="880" y="641" width="1" height="14" fill="#6A6A6A" shape-rendering="crispEdges"/>
<rect x="984" y="641" width="1" height="14" fill="#6A6A6A" shape-rendering="crispEdges"/>
<rect x="1052" y="641" width="1" height="14" fill="#6A6A6A" shape-rendering="crispEdges"/>
<rect x="1144" y="641" width="1" height="14" fill="#6A6A6A" shape-rendering="crispEdges"/>
<rect x="1220" y="641" width="1" height="14" fill="#6A6A6A" shape-rendering="crispEdges"/>
<rect x="1241" y="639" width="37" height="18" fill="#F0F0F0" shape-rendering="crispEdges"/>
<path d="M1251 644 L1248 647.5 L1251 651 Z" fill="#A0A0A0"/>
<path d="M1267 644 L1271 647.5 L1267 651 Z" fill="#000"/>
<text transform="translate(-0.81,22) scale(1.0078,1)" font-size="10.2" fill="#2A2A2A">M1</text>
<text transform="translate(27.19,22) scale(1.0078,1)" font-size="10.2" fill="#2A2A2A">M5</text>
<text transform="translate(53.23,22) scale(0.9677,1)" font-size="10.2" fill="#2A2A2A">M15</text>
<text transform="translate(81.23,22) scale(0.9626,1)" font-size="10.2" fill="#2A2A2A">M30</text>
<text transform="translate(111.12,22) scale(1.1017,1)" font-size="10.2" fill="#2A2A2A">H1</text>
<text transform="translate(139.20,22) scale(1.0000,1)" font-size="10.2" fill="#2A2A2A">H4</text>
<text transform="translate(167.12,22) scale(1.1017,1)" font-size="10.2" fill="#2A2A2A">D1</text>
<text transform="translate(195.90,22) scale(1.0204,1)" font-size="10.2" fill="#2A2A2A">W1</text>
<text transform="translate(222.15,22) scale(1.0563,1)" font-size="10.2" fill="#2A2A2A">MN</text>
<text transform="translate(21.23,46) scale(0.9663,1)" font-size="10.2" fill="#000" stroke="#000" stroke-width="0.15">USDCNH,Daily</text>
<text transform="translate(93.54,46) scale(0.9192,1)" font-size="10.2" fill="#000" stroke="#000" stroke-width="0.15">6.79077</text>
<text transform="translate(129.54,46) scale(0.9192,1)" font-size="10.2" fill="#000" stroke="#000" stroke-width="0.15">6.79102</text>
<text transform="translate(165.54,46) scale(0.9141,1)" font-size="10.2" fill="#000" stroke="#000" stroke-width="0.15">6.76504</text>
<text transform="translate(201.54,46) scale(0.9192,1)" font-size="10.2" fill="#000" stroke="#000" stroke-width="0.15">6.78889</text>
<text transform="translate(10.26,462) scale(0.9239,1)" font-size="10.2" fill="#000" stroke="#000" stroke-width="0.15">RSI(14) 35.8813</text>
<text transform="translate(11.27,520) scale(0.9156,1)" font-size="10.2" fill="#000" stroke="#000" stroke-width="0.15">MACD(12,26,9) -0.032195 -0.029239</text>
<text transform="translate(1237.54,52) scale(0.9167,1)" font-size="10.2" fill="#000" stroke="#000" stroke-width="0.15">6.98360</text>
<text transform="translate(1237.54,85) scale(0.9167,1)" font-size="10.2" fill="#000" stroke="#000" stroke-width="0.15">6.96260</text>
<text transform="translate(1237.54,118) scale(0.9167,1)" font-size="10.2" fill="#000" stroke="#000" stroke-width="0.15">6.94160</text>
<text transform="translate(1237.54,151) scale(0.9167,1)" font-size="10.2" fill="#000" stroke="#000" stroke-width="0.15">6.92060</text>
<text transform="translate(1237.54,184) scale(0.9167,1)" font-size="10.2" fill="#000" stroke="#000" stroke-width="0.15">6.89960</text>
<text transform="translate(1237.54,217) scale(0.9167,1)" font-size="10.2" fill="#000" stroke="#000" stroke-width="0.15">6.87860</text>
<text transform="translate(1237.54,250) scale(0.9167,1)" font-size="10.2" fill="#000" stroke="#000" stroke-width="0.15">6.85760</text>
<text transform="translate(1237.54,283) scale(0.9167,1)" font-size="10.2" fill="#000" stroke="#000" stroke-width="0.15">6.83660</text>
<text transform="translate(1237.54,316) scale(0.9167,1)" font-size="10.2" fill="#000" stroke="#000" stroke-width="0.15">6.81560</text>
<text transform="translate(1237.54,349) scale(0.9167,1)" font-size="10.2" fill="#000" stroke="#000" stroke-width="0.15">6.79460</text>
<text transform="translate(1237.54,382) scale(0.9167,1)" font-size="10.2" fill="#000" stroke="#000" stroke-width="0.15">6.77360</text>
<text transform="translate(1237.54,415) scale(0.9167,1)" font-size="10.2" fill="#000" stroke="#000" stroke-width="0.15">6.75320</text>
<text transform="translate(1237.54,448) scale(0.9167,1)" font-size="10.2" fill="#000" stroke="#000" stroke-width="0.15">6.73220</text>
<text transform="translate(1235.24,460) scale(0.9494,1)" font-size="10.2" fill="#000" stroke="#000" stroke-width="0.15">100</text>
<text transform="translate(1235.52,471) scale(0.9524,1)" font-size="10.2" fill="#000" stroke="#000" stroke-width="0.15">70</text>
<text transform="translate(1235.62,492) scale(0.9434,1)" font-size="10.2" fill="#000" stroke="#000" stroke-width="0.15">30</text>
<text transform="translate(1235.59,502) scale(1.0204,1)" font-size="10.2" fill="#000" stroke="#000" stroke-width="0.15">0</text>
<text transform="translate(1235.64,518) scale(0.9113,1)" font-size="10.2" fill="#000" stroke="#000" stroke-width="0.15">0.036209</text>
<text transform="translate(1235.62,563) scale(0.9424,1)" font-size="10.2" fill="#000" stroke="#000" stroke-width="0.15">0.00</text>
<text transform="translate(1235.63,613) scale(0.9137,1)" font-size="10.2" fill="#000" stroke="#000" stroke-width="0.15">-0.03907</text>
<text transform="translate(5.54,628) scale(0.9165,1)" font-size="10.2" fill="#000" stroke="#000" stroke-width="0.15">29 Aug 2018</text>
<text transform="translate(69.63,628) scale(0.9165,1)" font-size="10.2" fill="#000" stroke="#000" stroke-width="0.15">8 Sep 2018</text>
<text transform="translate(133.27,628) scale(0.9165,1)" font-size="10.2" fill="#000" stroke="#000" stroke-width="0.15">18 Sep 2018</text>
<text transform="translate(197.54,628) scale(0.9165,1)" font-size="10.2" fill="#000" stroke="#000" stroke-width="0.15">27 Sep 2018</text>
<text transform="translate(261.54,628) scale(0.9165,1)" font-size="10.2" fill="#000" stroke="#000" stroke-width="0.15">6 Oct 2018</text>
<text transform="translate(325.27,628) scale(0.9165,1)" font-size="10.2" fill="#000" stroke="#000" stroke-width="0.15">16 Oct 2018</text>
<text transform="translate(389.54,628) scale(0.9165,1)" font-size="10.2" fill="#000" stroke="#000" stroke-width="0.15">25 Oct 2018</text>
<text transform="translate(453.63,628) scale(0.9165,1)" font-size="10.2" fill="#000" stroke="#000" stroke-width="0.15">3 Nov 2018</text>
<text transform="translate(517.27,628) scale(0.9165,1)" font-size="10.2" fill="#000" stroke="#000" stroke-width="0.15">13 Nov 2018</text>
<text transform="translate(581.54,628) scale(0.9165,1)" font-size="10.2" fill="#000" stroke="#000" stroke-width="0.15">22 Nov 2018</text>
<text transform="translate(645.27,628) scale(0.9165,1)" font-size="10.2" fill="#000" stroke="#000" stroke-width="0.15">1 Dec 2018</text>
<text transform="translate(709.27,628) scale(0.9165,1)" font-size="10.2" fill="#000" stroke="#000" stroke-width="0.15">11 Dec 2018</text>
<text transform="translate(773.54,628) scale(0.9165,1)" font-size="10.2" fill="#000" stroke="#000" stroke-width="0.15">20 Dec 2018</text>
<text transform="translate(837.54,628) scale(0.9165,1)" font-size="10.2" fill="#000" stroke="#000" stroke-width="0.15">29 Dec 2018</text>
<text transform="translate(901.63,628) scale(0.9165,1)" font-size="10.2" fill="#000" stroke="#000" stroke-width="0.15">8 Jan 2019</text>
<text transform="translate(965.27,628) scale(0.9165,1)" font-size="10.2" fill="#000" stroke="#000" stroke-width="0.15">17 Jan 2019</text>
<text transform="translate(1237.54,358) scale(0.9192,1)" font-size="10.2" fill="#FFF" stroke="#FFF" stroke-width="0.15">6.78889</text>
<text transform="translate(21.47,70) scale(0.8784,1)" font-size="12.5" fill="#FFF">SELL</text>
<text transform="translate(190.06,70) scale(0.9426,1)" font-size="12.5" fill="#FFF">BUY</text>
<text transform="translate(125.54,69) scale(1.1483,1)" font-size="11.2" fill="#000">0.01</text>
<text transform="translate(29.58,109) scale(1.0435,1)" font-size="12.2" font-weight="bold" fill="#FFF">6.78</text>
<text transform="translate(139.58,109) scale(1.0480,1)" font-size="12.2" font-weight="bold" fill="#FFF">6.79</text>
<text transform="translate(57.58,109) scale(0.9483,1)" font-size="34" fill="#FFF">88</text>
<text transform="translate(167.23,109) scale(1.0645,1)" font-size="34" fill="#FFF">11</text>
<text transform="translate(96.47,93) scale(1.3208,1)" font-size="11" font-weight="bold" fill="#FFF">9</text>
<text transform="translate(207.76,93) scale(1.1864,1)" font-size="11" font-weight="bold" fill="#FFF">4</text>
<text transform="translate(20.05,653) scale(0.9531,1)" font-size="12.4" fill="#6A6A6A">EURUSD,H4</text>
<text transform="translate(111.00,653) scale(0.9844,1)" font-size="12.4" fill="#6A6A6A">AUDUSD,Daily</text>
<text transform="translate(214.11,653) scale(0.9838,1)" font-size="12.4" fill="#6A6A6A">USDCHF,Daily</text>
<text transform="translate(314.10,653) scale(0.9951,1)" font-size="12.4" fill="#6A6A6A">USDCAD,Daily</text>
<text transform="translate(418.11,653) scale(0.9868,1)" font-size="12.4" fill="#000">USDCNH,Daily</text>
<text transform="translate(521.13,653) scale(0.9633,1)" font-size="12.4" fill="#6A6A6A">USDJPY,H4</text>
<text transform="translate(607.71,653) scale(0.9700,1)" font-size="12.4" fill="#6A6A6A">XAUUSD,H1</text>
<text transform="translate(699.42,653) scale(0.9674,1)" font-size="12.4" fill="#6A6A6A">GBPUSD,Daily</text>
<text transform="translate(803.40,653) scale(1.0047,1)" font-size="12.4" fill="#6A6A6A">SP500,M15</text>
<text transform="translate(891.41,653) scale(0.9794,1)" font-size="12.4" fill="#6A6A6A">GBPUSD,Daily</text>
<text transform="translate(994.02,653) scale(0.9808,1)" font-size="12.4" fill="#6A6A6A">DJ30,H4</text>
<text transform="translate(1061.71,653) scale(0.9739,1)" font-size="12.4" fill="#6A6A6A">TECH100,H1</text>
<text transform="translate(1155.07,653) scale(1.0359,1)" font-size="12.4" fill="#6A6A6A">UKOil,H1</text>
<text transform="translate(1231.99,653) scale(1.1268,1)" font-size="12.4" fill="#6A6A6A">U</text>
</svg></body></html>
